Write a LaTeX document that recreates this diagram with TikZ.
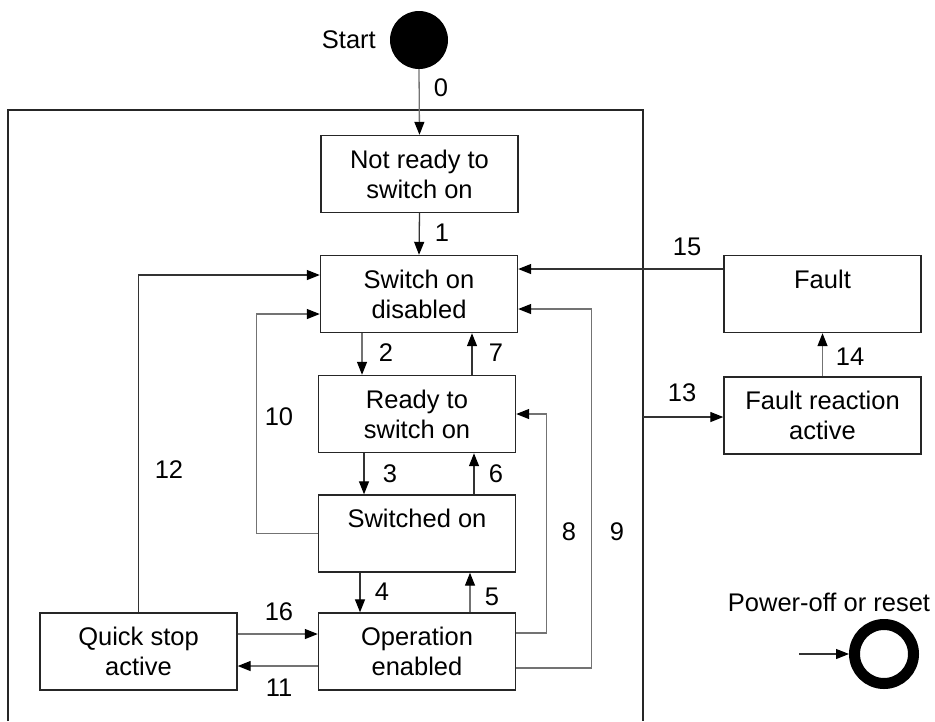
\documentclass[tikz,border=0pt]{standalone}
\usepackage{fontspec}
\setmainfont{Liberation Sans}
\usetikzlibrary{arrows.meta}
\begin{document}
\begin{tikzpicture}[x=1pt,y=-1pt,
  every node/.style={font=\fontsize{25.5}{30}\selectfont},
  state/.style={draw=black!85, line width=1.4pt, fill=white, minimum width=197pt, minimum height=77pt, inner sep=0pt, align=center},
  lbl/.style={inner sep=0pt},
  arr/.style={draw=black!80, line width=1.3pt, -{Triangle[length=13pt,width=10pt,color=black]}},
  garr/.style={draw=black!55, line width=1.3pt, -{Triangle[length=13pt,width=10pt,color=black]}}
]
\useasboundingbox (0,0) rectangle (935,721);
\fill[white] (0,0) rectangle (935,721);

% outer frame
\draw[black!85, line width=1.3pt] (8,721) -- (8,110) -- (643,110) -- (643,721);

% start
\node[circle, fill=black, minimum size=58pt, inner sep=0pt] (start) at (419,40) {};
\node[lbl, anchor=east] (startl) at (376,40) {Start};

% states
\node[state] (notready) at (419.5,174) {Not ready to\\switch on};
\node[state] (sod) at (419,294) {Switch on\\disabled};
\node[state] (ready) at (417,414) {Ready to\\switch on};
\node[state] (swon) at (417,533.5) {Switched on\\\mbox{}};
\node[state] (opena) at (417,651.5) {Operation\\enabled};
\node[state] (qs) at (138.5,651.5) {Quick stop\\active};
\node[state] (fault) at (822.5,294) {Fault\\\mbox{}};
\node[state] (fra) at (822.5,415.5) {Fault reaction\\active};

% power-off
\node[lbl] (pwr) at (829,602) {Power-off or reset};
\node[circle, draw=black, line width=11pt, minimum size=59pt, inner sep=0pt] (ring) at (884,654) {};
\coordinate (pin) at (799,654);
\draw[arr, line width=1.1pt] (pin) -- (ring.west);

% transitions
\draw[garr] (start.south) -- (notready.north);
\node[lbl] (l0) at (441,88) {0};

\draw[arr] (notready.south) -- (sod.north);
\node[lbl] (l1) at (442,233) {1};

\draw[garr] ([xshift=-57pt]sod.south) -- ([xshift=-57pt]sod.south |- ready.north);
\node[lbl] (l2) at (386,353) {2};
\draw[arr] ([xshift=55pt]ready.north) -- ([xshift=55pt]ready.north |- sod.south);
\node[lbl] (l7) at (496,353) {7};

\draw[arr] ([xshift=-53pt]ready.south) -- ([xshift=-53pt]ready.south |- swon.north);
\node[lbl] (l3) at (390,474) {3};
\draw[arr] ([xshift=57pt]swon.north) -- ([xshift=57pt]swon.north |- ready.south);
\node[lbl] (l6) at (496,474) {6};

\draw[arr] ([xshift=-57pt]swon.south) -- ([xshift=-57pt]swon.south |- opena.north);
\node[lbl] (l4) at (382,592) {4};
\draw[garr] ([xshift=53pt]opena.north) -- ([xshift=53pt]opena.north |- swon.south);
\node[lbl] (l5) at (492,597) {5};

\draw[garr] (swon.west) -- ++(-61,0) |- ([yshift=-20pt]sod.west);
\node[lbl] (l10) at (279,417) {10};

\draw[arr] (qs.north) |- ([yshift=19pt]sod.west);
\node[lbl] (l12) at (169,470) {12};

\draw[garr] ([yshift=17.5pt]qs.east) -- ([yshift=17.5pt]opena.west);
\node[lbl] (l16) at (279,612) {16};
\draw[garr] ([yshift=-14.5pt]opena.west) -- ([yshift=-14.5pt]qs.east);
\node[lbl] (l11) at (279,688) {11};

\draw[garr] ([yshift=18.5pt]opena.east) -- ++(30,0) |- (ready.east);
\node[lbl] (l8) at (569,532) {8};
\draw[garr] ([yshift=-16.5pt]opena.east) -- ++(75,0) |- ([yshift=-15pt]sod.east);
\node[lbl] (l9) at (617,532) {9};

\draw[arr] ([yshift=25pt]fault.west) -- ([yshift=25pt]sod.east);
\node[lbl] (l15) at (687,247) {15};

\draw[garr] (fra.north) -- (fault.south);
\node[lbl] (l14) at (850,357) {14};

\coordinate (o13) at (643,417);
\draw[arr] (o13) -- (fra.west |- o13);
\node[lbl] (l13) at (682,393) {13};
\end{tikzpicture}
\end{document}
